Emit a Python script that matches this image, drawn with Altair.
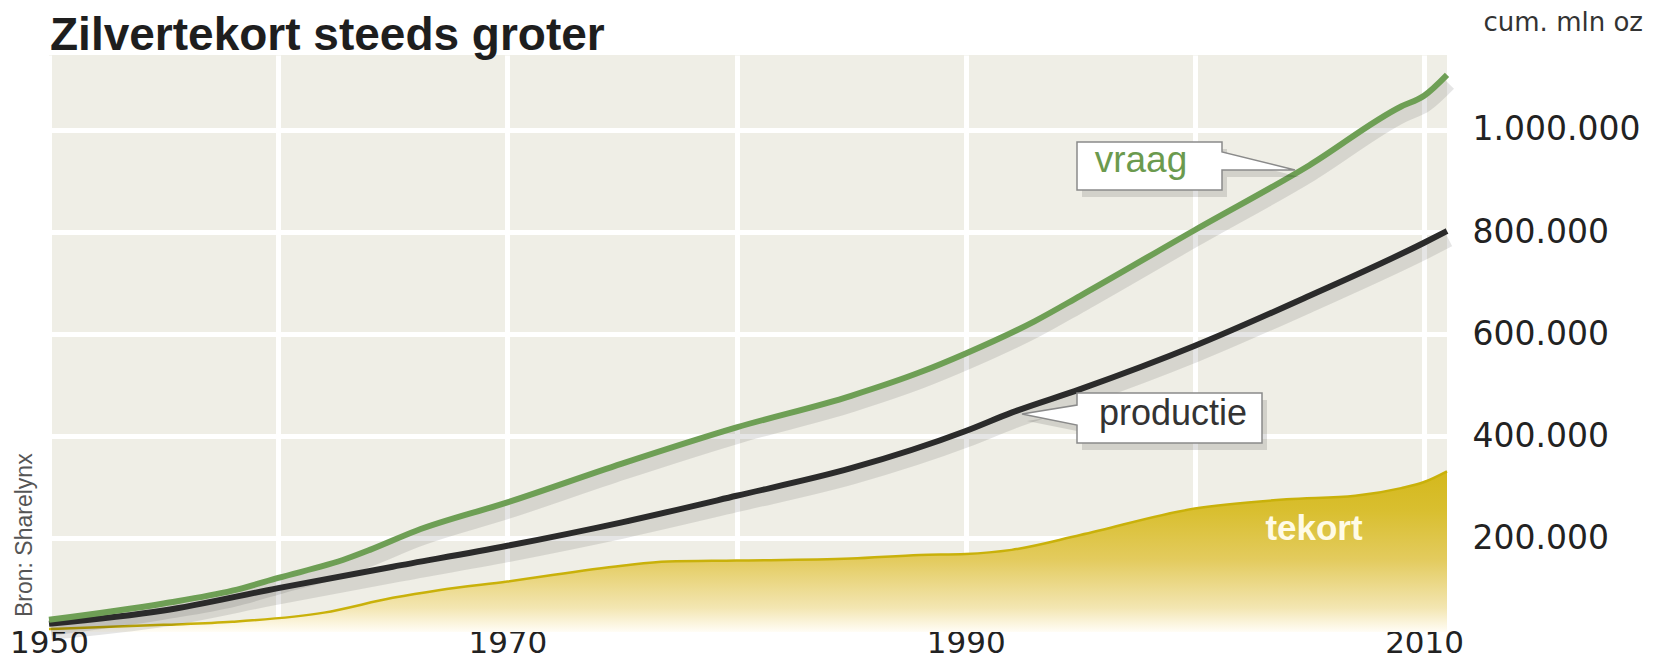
import altair as alt
import pandas as pd

# ---- data (estimates, cumulative mln oz) ----
vraag_years = [1950, 1955, 1958, 1960, 1963, 1964, 1966, 1970, 1975, 1980, 1985, 1988,
               1990, 1993, 1995, 2000, 2005, 2009, 2010, 2011]
vraag = [40000, 72000, 97000, 122000, 160000, 177000, 214000, 270000, 346000, 417000,
         479000, 525000, 562000, 625000, 675000, 804000, 931000, 1046000, 1067000, 1108000]

prod_years = [1950, 1955, 1960, 1965, 1970, 1975, 1980, 1985, 1990, 1992, 1995, 2000,
              2005, 2010, 2011]
productie = [32000, 58000, 102000, 144000, 185000, 231000, 283000, 337000, 410000,
             446000, 492000, 577000, 675000, 779000, 802000]

tek_years = [1950, 1955, 1958, 1962, 1965, 1967, 1970, 1975, 1977, 1980, 1985, 1988,
             1990, 1992, 1995, 2000, 2004, 2007, 2009, 2010, 2011]
tekort = [22000, 30000, 36000, 54000, 83000, 98000, 115000, 146000, 154000, 156000,
          160000, 167000, 169000, 177000, 206000, 258000, 276000, 283000, 298000, 310000, 331000]

x_ticks = [1950, 1960, 1970, 1980, 1990, 2000, 2010]
y_ticks = [200000, 400000, 600000, 800000, 1000000]

title_text = "Zilvertekort steeds groter"
unit_text = "cum. mln oz"
source_text = "Bron: Sharelynx"

df_v = pd.DataFrame({"jaar": vraag_years, "waarde": vraag})
df_p = pd.DataFrame({"jaar": prod_years, "waarde": productie})
df_t = pd.DataFrame({"jaar": tek_years, "waarde": tekort})

Y_MIN = 16000
xs = alt.Scale(domain=[1950, 2011], nice=False, zero=False)
ys = alt.Scale(domain=[Y_MIN, 1147000], nice=False, zero=False)

x_axis = alt.Axis(values=x_ticks, grid=True, gridColor="white", gridWidth=5,
                  domain=False, ticks=False, tickSize=0, title=None,
                  labelExpr="datum.value % 20 == 10 ? '' + datum.value : ''",
                  labelFont="DejaVu Sans", labelFontSize=31, labelColor="#222222",
                  labelBaseline="alphabetic", labelPadding=20, labelAlign="center")
y_axis = alt.Axis(orient="right", values=y_ticks, grid=True, gridColor="white", gridWidth=5,
                  domain=False, ticks=False, tickSize=0, title=None,
                  labelExpr="replace(replace(format(datum.value, ','), ',', '.'), ',', '.')",
                  labelFont="DejaVu Sans", labelFontSize=33, labelColor="#222222",
                  labelAlign="left", labelBaseline="middle", labelPadding=25)

X = alt.X("jaar:Q", scale=xs, axis=x_axis)
Y = alt.Y("waarde:Q", scale=ys, axis=y_axis)

gradient = alt.Gradient(
    gradient="linear",
    stops=[alt.GradientStop(color="#fffdf6", offset=0),
           alt.GradientStop(color="#f3e6b2", offset=0.15),
           alt.GradientStop(color="#e3cb5e", offset=0.45),
           alt.GradientStop(color="#d9bf30", offset=0.75),
           alt.GradientStop(color="#d4b81c", offset=1)],
    x1=1, x2=1, y1=1, y2=0)

area = alt.Chart(df_t).mark_area(color=gradient, interpolate="monotone").encode(
    x=X, y=Y, y2=alt.datum(Y_MIN),
)
area_edge = alt.Chart(df_t).mark_line(color="#c9b10a", strokeWidth=2.5,
                                      interpolate="monotone").encode(x=X, y=Y)

def shadow(df):
    return alt.Chart(df).mark_line(color="#000000", opacity=0.10, strokeWidth=14,
                                   yOffset=9, xOffset=2, interpolate="monotone").encode(x=X, y=Y)

line_p = alt.Chart(df_p).mark_line(color="#2b2b2b", strokeWidth=6,
                                   interpolate="monotone").encode(x=X, y=Y)
line_v = alt.Chart(df_v).mark_line(color="#6e9f55", strokeWidth=6,
                                   interpolate="monotone").encode(x=X, y=Y)

one = pd.DataFrame({"k": [0]})

def callout(path, px, py):
    sh = alt.Chart(one).mark_point(shape=path, size=4, filled=True, fill="#000000",
                                   opacity=0.12, strokeWidth=0).encode(
        x=alt.value(px + 5), y=alt.value(py + 7))
    box = alt.Chart(one).mark_point(shape=path, size=4, filled=True, fill="#ffffff",
                                    stroke="#8a8a8a", strokeWidth=1.5, opacity=1).encode(
        x=alt.value(px), y=alt.value(py))
    return sh + box

vraag_box = callout("M0,0 H145 V10 L218,28 L145,28 V48 H0 Z", 1028, 87)
prod_box = callout("M0,0 H185 V50 H0 V32 L-55,21 L0,12 Z", 1028, 338)

def txt(text, px, py, size, color, font="Liberation Sans", weight="normal", align="center", angle=0):
    return alt.Chart(one).mark_text(text=text, font=font, fontSize=size, color=color,
                                    fontWeight=weight, align=align, baseline="alphabetic",
                                    angle=angle).encode(
        x=alt.value(px), y=alt.value(py))

t_vraag = txt("vraag", 1092, 117, 37, "#6b9a4e")
t_prod = txt("productie", 1124, 370, 36, "#333333")
t_tek = txt("tekort", 1265, 485, 35, "#fffbe6", weight="bold")
t_title = txt(title_text, 1, -5, 46, "#1e1e1e", weight="bold", align="left")
t_unit = txt(unit_text, 1594, -24, 26, "#333333", font="DejaVu Sans", align="right")
t_src = txt(source_text, -17, 562, 23, "#555555", align="left", angle=270)

chart = alt.layer(
    area, area_edge, shadow(df_p), shadow(df_v), line_p, line_v,
    vraag_box, prod_box, t_vraag, t_prod, t_tek, t_title, t_unit, t_src
).properties(
    width=1398, height=577,
    autosize=alt.AutoSizeParams(type="none"),
    padding={"left": 41, "top": 47, "right": 200, "bottom": 26},
    background="white",
).configure_view(fill="#efeee6", stroke=None)

chart.save("out.html", embed_options={"renderer": "svg", "actions": False})
